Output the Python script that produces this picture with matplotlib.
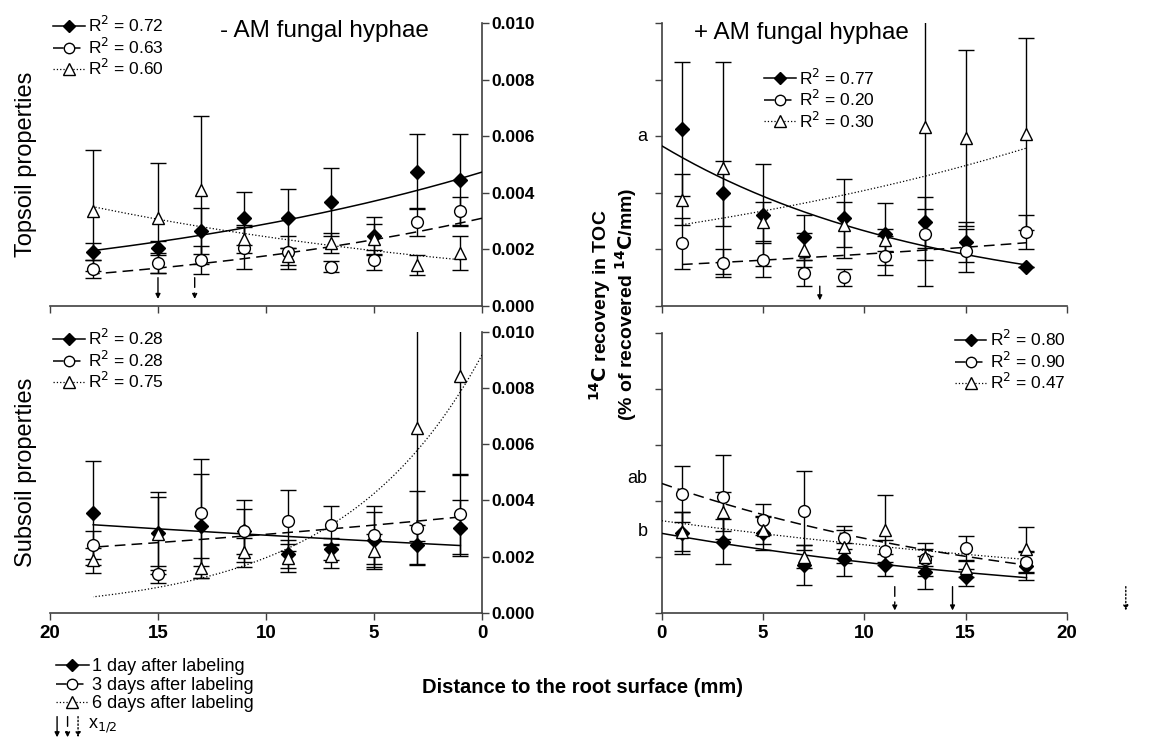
import numpy as np
import matplotlib.pyplot as plt
from matplotlib.lines import Line2D

plt.rcParams['font.family'] = ['Liberation Sans', 'DejaVu Sans']

# distance to root surface (mm), same for every panel
dist = [18, 15, 13, 11, 9, 7, 5, 3, 1]

# values in units of 0.001 % of recovered 14C / mm
# topsoil, - AM hyphae
tl_day1 = [1.92, 2.04, 2.65, 3.10, 3.10, 3.69, 2.48, 4.75, 4.46]
tl_day1_err = [0.30, 0.25, 0.80, 0.94, 1.04, 1.20, 0.65, 1.32, 1.61]
tl_day3 = [1.30, 1.51, 1.63, 2.04, 1.89, 1.39, 1.63, 2.96, 3.34]
tl_day3_err = [0.32, 0.35, 0.50, 0.75, 0.60, 0.20, 0.35, 0.50, 0.50]
tl_day6 = [3.37, 3.10, 4.10, 2.36, 1.75, 2.22, 2.36, 1.45, 1.86]
tl_day6_err = [2.15, 1.95, 2.60, 0.50, 0.30, 0.35, 0.55, 0.35, 0.60]

# subsoil, - AM hyphae
bl_day1 = [3.57, 2.84, 3.10, 2.90, 2.09, 2.28, 2.58, 2.43, 3.02]
bl_day1_err = [1.85, 1.45, 1.85, 1.10, 0.50, 0.40, 1.00, 0.70, 1.00]
bl_day3 = [2.43, 1.38, 3.57, 2.90, 3.28, 3.12, 2.77, 3.02, 3.51]
bl_day3_err = [0.50, 0.30, 1.90, 0.80, 1.08, 0.67, 1.04, 1.30, 1.40]
bl_day6 = [1.87, 2.82, 1.60, 2.15, 1.95, 2.01, 2.22, 6.57, 8.43]
bl_day6_err = [0.45, 1.30, 0.35, 0.50, 0.50, 0.40, 0.60, 4.00, 3.50]

# topsoil, + AM hyphae
tr_day1 = [1.39, 2.25, 2.95, 2.54, 3.10, 2.43, 3.22, 3.99, 6.25]
tr_day1_err = [0.00, 0.70, 0.90, 1.10, 1.40, 0.80, 1.80, 1.15, 2.37]
tr_day3 = [2.63, 1.96, 2.54, 1.78, 1.01, 1.16, 1.63, 1.51, 2.22]
tr_day3_err = [0.60, 0.75, 0.90, 0.70, 0.30, 0.45, 0.60, 0.50, 0.90]
tr_day6 = [6.07, 5.93, 6.32, 2.33, 2.87, 1.98, 2.98, 4.87, 3.75]
tr_day6_err = [3.40, 3.10, 5.60, 0.40, 0.80, 0.60, 0.70, 3.75, 0.90]

# subsoil, + AM hyphae
br_day1 = [1.70, 1.28, 1.46, 1.72, 1.92, 1.72, 2.85, 2.55, 2.87]
br_day1_err = [0.50, 0.30, 0.60, 0.40, 0.60, 0.70, 0.60, 0.80, 0.75]
br_day3 = [1.82, 2.32, 1.92, 2.23, 2.70, 3.66, 3.33, 4.16, 4.24]
br_day3_err = [0.40, 0.45, 0.60, 0.40, 0.40, 1.40, 0.55, 1.50, 1.00]
br_day6 = [2.28, 1.60, 2.00, 2.97, 2.38, 2.02, 2.97, 3.62, 2.91]
br_day6_err = [0.80, 0.30, 0.30, 1.25, 0.60, 0.40, 0.50, 0.70, 0.70]

# exponential fits y = a * exp(b * x), drawn from x_start to x_end
tl_fit = [(4.73, -0.049, 0, 18), (3.10, -0.056, 0, 18), (1.56, 0.045, 1, 18)]
bl_fit = [(2.36, 0.0158, 1, 18), (3.49, -0.0222, 1, 18), (9.17, -0.154, 0, 18)]
tr_fit = [(5.66, -0.0757, 0, 18), (1.43, 0.0248, 1, 18), (2.76, 0.0391, 1, 18)]
br_fit = [(2.85, -0.0449, 0, 18), (4.63, -0.055, 0, 18), (3.30, -0.0301, 0, 18)]

tl_r2 = ['0.72', '0.63', '0.60']
bl_r2 = ['0.28', '0.28', '0.75']
tr_r2 = ['0.77', '0.20', '0.30']
br_r2 = ['0.80', '0.90', '0.47']

# x1/2 arrows (None = not shown)
tl_half = [15.0, 13.3, None]
bl_half = [None, None, None]
tr_half = [7.8, None, None]
br_half = [14.35, 11.5, 22.9]

series_labels = ['1 day after labeling', '3 days after labeling',
                 '6 days after labeling']
markers = ['D', 'o', '^']
mfcs = ['k', 'w', 'w']
msizes = [7, 8.5, 9]
lstyles = ['-', (0, (7, 4)), ':']
lwidths = [1.1, 1.1, 0.9]
SPINE = '#404040'

S = 1e-3


def draw_panel(ax, means, errs, fits, r2, halves, arrow_rng, leg_loc, leg_anchor):
    for i in range(3):
        y = np.array(means[i]) * S
        e = np.array(errs[i]) * S
        ax.errorbar(dist, y, yerr=e, fmt='none', ecolor='k', elinewidth=1,
                    capsize=6, capthick=1, zorder=2)
        a, b, x0, x1 = fits[i]
        xx = np.linspace(x0, x1, 200)
        ax.plot(xx, a * S * np.exp(b * xx), color='k', ls=lstyles[i],
                lw=lwidths[i], zorder=3)
    for i in range(3):
        y = np.array(means[i]) * S
        ax.plot(dist, y, ls='none', marker=markers[i], ms=msizes[i],
                mfc=mfcs[i], mec='k', mew=1, zorder=4 + i)
    handles = [Line2D([], [], color='k', ls=lstyles[i], lw=lwidths[i],
                      marker=markers[i], ms=msizes[i] - 1, mfc=mfcs[i], mec='k')
               for i in range(3)]
    ax.legend(handles, ['R$^2$ = ' + r for r in r2], loc=leg_loc,
              bbox_to_anchor=leg_anchor, frameon=False, fontsize=12.5,
              handlelength=1.8, handletextpad=0.2, labelspacing=0.08,
              borderpad=0.1, borderaxespad=0.1)
    for i, h in enumerate(halves):
        if h is None:
            continue
        ax.annotate('', xy=(h, arrow_rng[1] * S), xytext=(h, arrow_rng[0] * S),
                    annotation_clip=False,
                    arrowprops=dict(arrowstyle='-|>', color='k', lw=1,
                                    ls=lstyles[i], mutation_scale=7,
                                    shrinkA=0, shrinkB=0))
    ax.set_ylim(0, 0.010)
    ax.set_xlim(0, 20)
    ax.set_yticks(np.arange(0, 0.0101, 0.002))
    ax.set_xticks([0, 5, 10, 15, 20])
    ax.tick_params(direction='out', length=5, width=1, color=SPINE)
    for sp in ax.spines.values():
        sp.set_color(SPINE)
        sp.set_linewidth(1.2)


fig = plt.figure(figsize=(11.65, 7.38), dpi=100)
ax_tl = fig.add_axes([0.0429, 0.5854, 0.3708, 0.3835])
ax_bl = fig.add_axes([0.0429, 0.1694, 0.3708, 0.3812])
ax_tr = fig.add_axes([0.5680, 0.5854, 0.3479, 0.3835])
ax_br = fig.add_axes([0.5680, 0.1690, 0.3479, 0.3800])

draw_panel(ax_tl, [tl_day1, tl_day3, tl_day6], [tl_day1_err, tl_day3_err, tl_day6_err],
           tl_fit, tl_r2, tl_half, (1.0, 0.25), 'upper left', (0.0, 1.04))
draw_panel(ax_bl, [bl_day1, bl_day3, bl_day6], [bl_day1_err, bl_day3_err, bl_day6_err],
           bl_fit, bl_r2, bl_half, (1.0, 0.25), 'upper left', (0.0, 1.025))
draw_panel(ax_tr, [tr_day1, tr_day3, tr_day6], [tr_day1_err, tr_day3_err, tr_day6_err],
           tr_fit, tr_r2, tr_half, (0.7, 0.2), 'upper left', (0.245, 0.855))
draw_panel(ax_br, [br_day1, br_day3, br_day6], [br_day1_err, br_day3_err, br_day6_err],
           br_fit, br_r2, br_half, (0.95, 0.1), 'upper right', (1.005, 1.025))

for ax in (ax_tl, ax_bl):
    ax.invert_xaxis()
    ax.spines[['left', 'top']].set_visible(False)
    ax.yaxis.tick_right()
    ax.set_yticklabels(['%.3f' % v for v in ax.get_yticks()],
                       fontweight='bold', fontsize=12.5)
    ax.tick_params(axis='y', pad=2)
for ax in (ax_tr, ax_br):
    ax.spines[['right', 'top']].set_visible(False)
    ax.set_yticklabels([])
for ax in (ax_tl, ax_tr):
    ax.set_xticklabels([])
for ax in (ax_bl, ax_br):
    ax.set_xticklabels(['%d' % v for v in ax.get_xticks()], fontweight='bold',
                       fontsize=13.5)

ax_tl.text(0.635, 0.97, '- AM fungal hyphae', transform=ax_tl.transAxes,
           ha='center', va='center', fontsize=17.5)
ax_tr.text(0.345, 0.965, '+ AM fungal hyphae', transform=ax_tr.transAxes,
           ha='center', va='center', fontsize=17.5)
ax_tl.text(-0.055, 0.5, 'Topsoil properties', transform=ax_tl.transAxes,
           rotation=90, ha='center', va='center', fontsize=17)
ax_bl.text(-0.055, 0.5, 'Subsoil properties', transform=ax_bl.transAxes,
           rotation=90, ha='center', va='center', fontsize=17)

# significance letters at the fit intercepts
ax_tr.text(-0.035, 0.60, 'a', transform=ax_tr.transAxes, ha='right',
           va='center', fontsize=13)
ax_br.text(-0.035, 0.48, 'ab', transform=ax_br.transAxes, ha='right',
           va='center', fontsize=13)
ax_br.text(-0.035, 0.29, 'b', transform=ax_br.transAxes, ha='right',
           va='center', fontsize=13)

fig.text(0.526, 0.587, '$\\mathbf{^{14}C}$ recovery in TOC\n(% of recovered $\\mathbf{^{14}C}$/mm)',
         rotation=90, ha='center', va='center', fontsize=14,
         fontweight='bold', linespacing=1.0)
fig.text(0.5, 0.069, 'Distance to the root surface (mm)', ha='center',
         va='center', fontsize=14.5, fontweight='bold')

# bottom legend
leg_handles = [Line2D([], [], color='k', ls=lstyles[i], lw=lwidths[i],
                      marker=markers[i], ms=msizes[i] - 1, mfc=mfcs[i], mec='k')
               for i in range(3)]
fig.legend(leg_handles, series_labels, loc='upper left',
           bbox_to_anchor=(0.0405, 0.12), frameon=False,
           handlelength=1.8, handletextpad=0.2, labelspacing=0.08,
           borderpad=0.0, prop={'size': 13})
for i, xf in enumerate([0.049, 0.058, 0.067]):
    fig.axes[0].annotate('', xy=(xf, 0.001), xytext=(xf, 0.029),
                         xycoords='figure fraction', textcoords='figure fraction',
                         arrowprops=dict(arrowstyle='-|>', color='k', lw=1,
                                         ls=lstyles[i], mutation_scale=7,
                                         shrinkA=0, shrinkB=0))
fig.text(0.0755, 0.016, 'x$_{1/2}$', ha='left', va='center', fontsize=13)

plt.savefig('out.png', dpi=100)
